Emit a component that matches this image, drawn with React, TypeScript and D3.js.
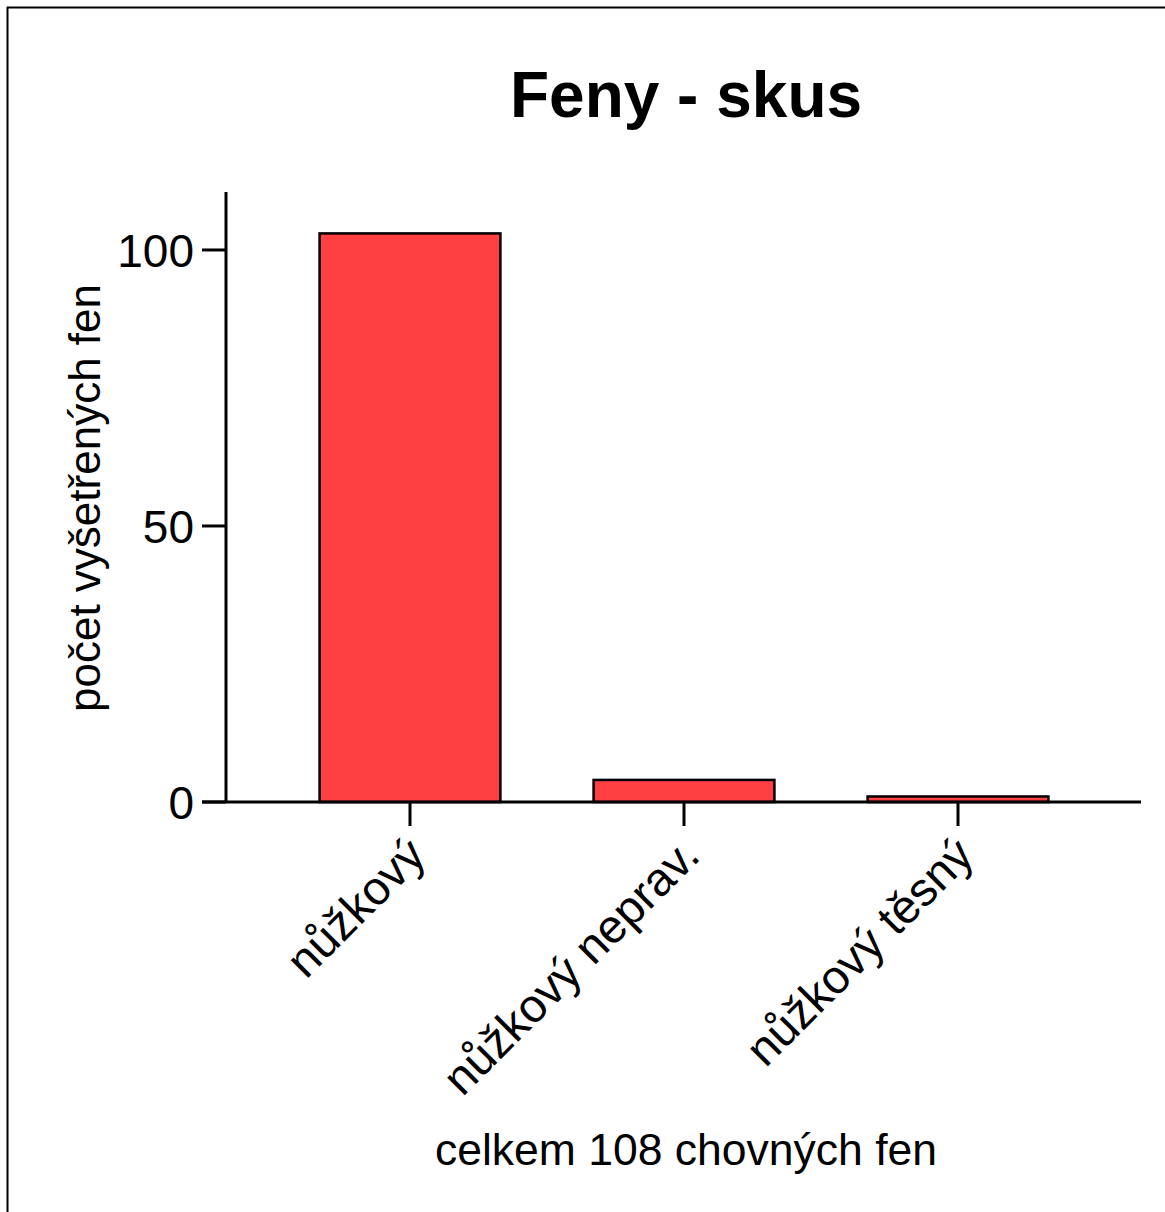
import React from "react";
import * as d3 from "d3";

const categories = ["nůžkový", "nůžkový neprav.", "nůžkový těsný"];
const counts = [103, 4, 1];
const yTicks = [0, 50, 100];
const title = "Feny - skus";
const xTitle = "celkem 108 chovných fen";
const yTitle = "počet vyšetřených fen";

export default function App() {
  const W = 1165, H = 1212;
  const x = d3.scaleBand<string>().domain(categories).range([273, 1095]).paddingInner(0.34).paddingOuter(0.17);
  const y = d3.scaleLinear().domain([0, 110.5]).range([802, 192]);
  const font = "Arial, 'Liberation Sans', sans-serif";
  const sw = 3;
  return (
    <svg width={W} height={H} style={{ position: "absolute", left: 0, top: 0 }} fontFamily={font}>
      <rect x={0} y={0} width={W} height={H} fill="#fff" />
      <line x1={7.5} y1={7} x2={7.5} y2={H} stroke="#000" strokeWidth={2} />
      <line x1={7} y1={7.5} x2={W} y2={7.5} stroke="#000" strokeWidth={2} />
      <text x={686} y={117} textAnchor="middle" fontSize={64} fontWeight="bold">{title}</text>
      {categories.map((c, i) => (
        <rect key={c} x={x(c)!} y={y(counts[i])} width={x.bandwidth()} height={y(0) - y(counts[i])}
          fill="#ff4043" stroke="#000" strokeWidth={2.5} />
      ))}
      <line x1={226} y1={y.range()[1]} x2={226} y2={y(0)} stroke="#000" strokeWidth={sw} />
      <line x1={202} y1={y(0)} x2={1141} y2={y(0)} stroke="#000" strokeWidth={sw} />
      {yTicks.map(t => (
        <g key={t}>
          <line x1={202} x2={226} y1={y(t)} y2={y(t)} stroke="#000" strokeWidth={sw} />
          <text x={194} y={y(t)} dy="0.36em" textAnchor="end" fontSize={46}>{t}</text>
        </g>
      ))}
      {categories.map(c => {
        const cx = x(c)! + x.bandwidth() / 2;
        return (
          <g key={c}>
            <line x1={cx} x2={cx} y1={y(0)} y2={826} stroke="#000" strokeWidth={sw} />
            <text transform={`translate(${cx + 18},${858}) rotate(-45)`} textAnchor="end" fontSize={47}>{c}</text>
          </g>
        );
      })}
      <text x={686} y={1165} textAnchor="middle" fontSize={44.5}>{xTitle}</text>
      <text transform={`translate(100,498) rotate(-90)`} textAnchor="middle" fontSize={44}>{yTitle}</text>
    </svg>
  );
}
